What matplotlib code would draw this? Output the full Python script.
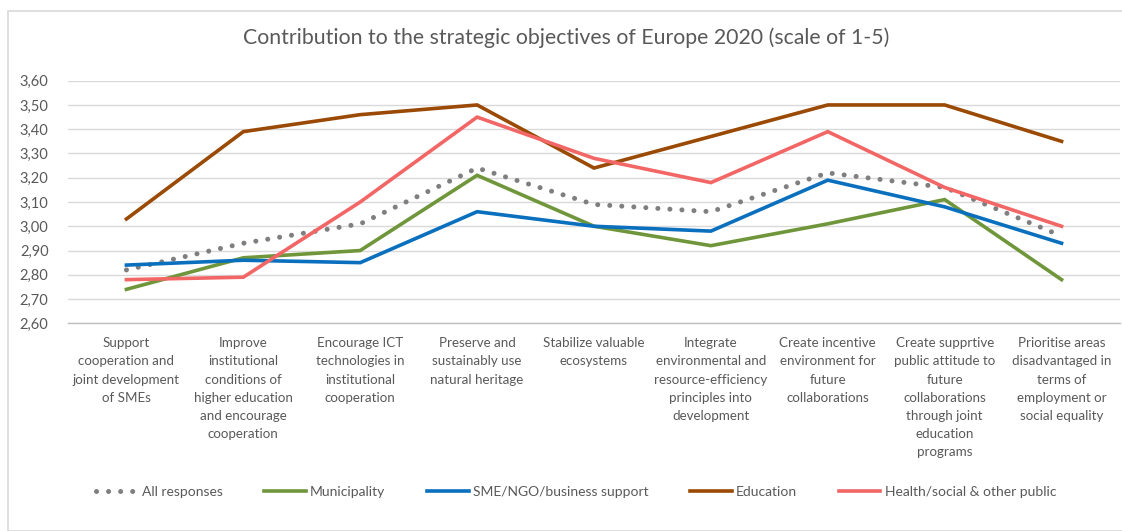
import matplotlib
matplotlib.use("Agg")
import matplotlib.pyplot as plt
from matplotlib.patches import Rectangle

plt.rcParams['font.family'] = ['Lato', 'DejaVu Sans']

categories = [
    "Support\ncooperation and\njoint development\nof SMEs",
    "Improve\ninstitutional\nconditions of\nhigher education\nand encourage\ncooperation",
    "Encourage ICT\ntechnologies in\ninstitutional\ncooperation",
    "Preserve and\nsustainably use\nnatural heritage",
    "Stabilize valuable\necosystems",
    "Integrate\nenvironmental and\nresource-efficiency\nprinciples into\ndevelopment",
    "Create incentive\nenvironment for\nfuture\ncollaborations",
    "Create supprtive\npublic attitude to\nfuture\ncollaborations\nthrough joint\neducation\nprograms",
    "Prioritise areas\ndisadvantaged in\nterms of\nemployment or\nsocial equality",
]

all_responses = [2.82, 2.93, 3.01, 3.24, 3.09, 3.06, 3.22, 3.16, 2.96]
municipality  = [2.74, 2.87, 2.90, 3.21, 3.00, 2.92, 3.01, 3.11, 2.78]
sme_ngo       = [2.84, 2.86, 2.85, 3.06, 3.00, 2.98, 3.19, 3.08, 2.93]
education     = [3.03, 3.39, 3.46, 3.50, 3.24, 3.37, 3.50, 3.50, 3.35]
health_social = [2.78, 2.79, 3.10, 3.45, 3.28, 3.18, 3.39, 3.16, 3.00]

y_ticks = [2.60, 2.70, 2.80, 2.90, 3.00, 3.10, 3.20, 3.30, 3.40, 3.50, 3.60]
y_tick_labels = [f"{v:.2f}".replace(".", ",") for v in y_ticks]

title = "Contribution to the strategic objectives of Europe 2020 (scale of 1-5)"
text_color = "#595959"

W, H = 1122, 531
fig = plt.figure(figsize=(W / 100, H / 100), dpi=100)

# light chart frame
fig.patches.append(Rectangle((8 / W, 0.0), 1.2, 1 - 11 / H,
                             transform=fig.transFigure, fill=False,
                             edgecolor="#D9D9D9", linewidth=1.2))

left, right = 68 / W, 1120 / W
bottom, top = 1 - 323.3 / H, 1 - 80.7 / H
ax = fig.add_axes([left, bottom, right - left, top - bottom])

x = list(range(len(categories)))
ax.plot(x, all_responses, color="#7F7F7F", linewidth=3.6,
        linestyle=(0, (0.01, 2.4)), dash_capstyle="round", label="All responses")
ax.plot(x, municipality, color="#70963B", linewidth=2.6, label="Municipality",
        solid_joinstyle="miter")
ax.plot(x, sme_ngo, color="#0A70BE", linewidth=2.6, label="SME/NGO/business support",
        solid_joinstyle="miter")
ax.plot(x, education, color="#9A4A05", linewidth=2.6, label="Education",
        solid_joinstyle="miter")
ax.plot(x, health_social, color="#F26666", linewidth=2.6,
        label="Health/social & other public", solid_joinstyle="miter")

ax.set_xlim(-0.5, len(categories) - 0.5)
ax.set_ylim(2.60, 3.60)
ax.set_yticks(y_ticks)
ax.set_yticklabels(y_tick_labels)
ax.set_xticks(x)
ax.set_xticklabels(categories, linespacing=1.62)
ax.tick_params(axis="y", length=0, colors=text_color, labelsize=10.5, pad=14)
ax.tick_params(axis="x", length=0, colors=text_color, labelsize=9.6, pad=10)
for lbl in ax.get_xticklabels():
    lbl.set_verticalalignment("top")

ax.grid(axis="y", color="#D9D9D9", linewidth=1.0)
ax.set_axisbelow(True)
for side in ["top", "right", "left"]:
    ax.spines[side].set_visible(False)
ax.spines["bottom"].set_color("#BFBFBF")
ax.spines["bottom"].set_linewidth(1.0)

fig.text(566 / W, 1 - 38 / H, title, ha="center", va="center",
         fontsize=15.3, color=text_color)

handles, labels = ax.get_legend_handles_labels()
fig.legend(handles, labels, loc="center", bbox_to_anchor=(576 / W, 1 - 492 / H),
           ncol=5, frameon=False, fontsize=10, labelcolor=text_color,
           handlelength=3.0, handletextpad=0.3, columnspacing=3.0)

fig.savefig("out.png", dpi=100, facecolor="white")
